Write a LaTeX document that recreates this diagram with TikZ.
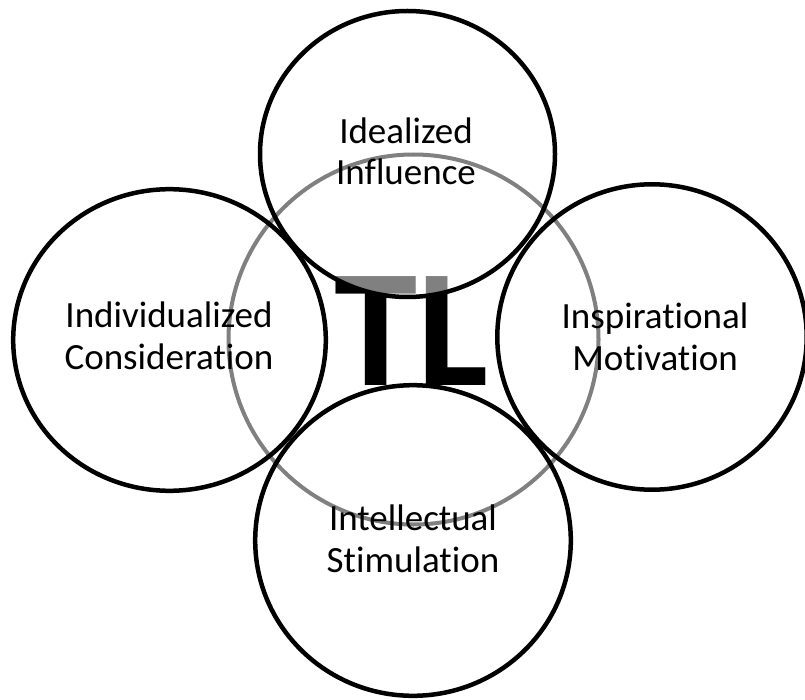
\documentclass[tikz,border=0pt]{standalone}
\usepackage{fontspec}
\setmainfont{Carlito}[Ligatures=NoCommon]
\begin{document}
\begin{tikzpicture}[x=1pt,y=-1pt,
  ring/.style={draw=black,line width=4.5pt},
  veil/.style={fill=white,fill opacity=0.5},
  hub/.style={draw=black!50,line width=4pt},
  pillar/.style={font=\fontsize{37}{41.5}\selectfont,align=center,anchor=base,inner sep=0pt,text=black},
  bigword/.style={font=\bfseries\fontsize{168}{168}\selectfont,anchor=base,inner sep=0pt}
]
\useasboundingbox (0,0) rectangle (805,700);
% centres of the four pillars and of the hub ring
\coordinate (cTop) at (407.5,154);
\coordinate (cLeft) at (169.5,340);
\coordinate (cRight) at (652,337);
\coordinate (cBottom) at (413,540.5);
\coordinate (cHub) at (413.5,339.5);
% central lettering, partly veiled by the pillars
\node[bigword] (tl) at (411.5,385) {TL};
% translucent pillar discs
\foreach \c/\rx/\ry in {cTop/147.5/143, cLeft/156.3/150.8, cRight/154.7/152.7, cBottom/157.8/155.3}
  \fill[veil] (\c) ellipse [x radius=\rx pt, y radius=\ry pt];
% hub ring
\draw[hub] (cHub) circle [radius=185pt];
% pillar outlines
\foreach \c/\rx/\ry in {cTop/147.5/143, cLeft/156.3/150.8, cRight/154.7/152.7, cBottom/157.8/155.3}
  \draw[ring] (\c) ellipse [x radius=\rx pt, y radius=\ry pt];
% pillar labels (anchored on the baseline of the second line)
\node[pillar] (ii) at (406,185) {Idealized\\Influence};
\node[pillar] (ic) at (169,369) {Individualized\\Consideration};
\node[pillar] (im) at (655,370) {Inspirational\\Motivation};
\node[pillar] (is) at (413,572) {Intellectual\\Stimulation};
\end{tikzpicture}
\end{document}
